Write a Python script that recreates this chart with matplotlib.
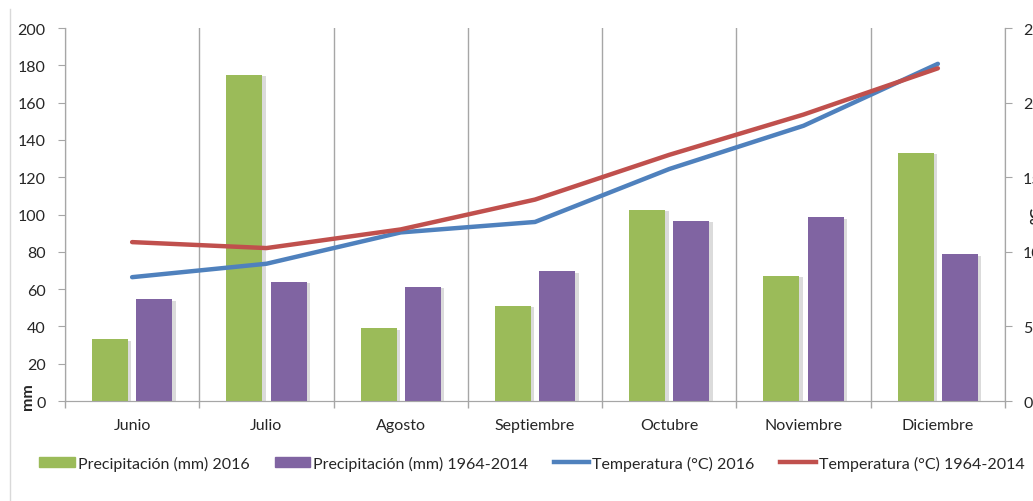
import matplotlib.pyplot as plt
import matplotlib.patheffects as pe
from matplotlib.lines import Line2D
from matplotlib.patches import Patch
import numpy as np

plt.rcParams['font.family'] = ['Lato', 'DejaVu Sans']

months = ['Junio', 'Julio', 'Agosto', 'Septiembre', 'Octubre', 'Noviembre', 'Diciembre']
prec_2016 = [33, 175, 39, 51, 102.5, 67, 133]
prec_hist = [54.5, 64, 61.3, 69.5, 96.5, 98.5, 78.7]
temp_2016 = [8.3, 9.2, 11.3, 12.0, 15.55, 18.45, 22.6]
temp_hist = [10.65, 10.25, 11.5, 13.5, 16.5, 19.2, 22.3]

GREEN = '#9BBB59'
PURPLE = '#8064A2'
BLUE = '#4F81BD'
RED = '#C0504D'
GRID = '#A6A6A6'
TXT = '#262626'

fig = plt.figure(figsize=(10.33, 5.02), dpi=100)
ax = fig.add_axes([0.0629, 0.1992, 0.91, 0.743])
ax2 = ax.twinx()

x = np.arange(len(months))
w = 0.268
off = 0.165
# soft drop shadow on the bars
shadow = [pe.SimplePatchShadow(offset=(2.5, -1), shadow_rgbFace='#9a9a9a', alpha=0.35), pe.Normal()]
b1 = ax.bar(x - off, prec_2016, w, color=GREEN, zorder=3)
b2 = ax.bar(x + off, prec_hist, w, color=PURPLE, zorder=3)
for bar in list(b1) + list(b2):
    bar.set_path_effects(shadow)

l1, = ax2.plot(x, temp_2016, color=BLUE, lw=3.2, solid_capstyle='round', solid_joinstyle='round')
l2, = ax2.plot(x, temp_hist, color=RED, lw=3.2, solid_capstyle='round', solid_joinstyle='round')

ax.set_xlim(-0.5, 6.5)
ax.set_ylim(0, 200)
ax2.set_ylim(0, 25)
ax.set_yticks(range(0, 201, 20))
ax2.set_yticks(range(0, 26, 5))

ax.set_xticks(x)
ax.set_xticklabels(months, fontsize=11.5, color=TXT)
ax.tick_params(axis='x', which='major', length=0, pad=12)
ax.set_xticks(np.arange(-0.5, 7, 1), minor=True)
ax.tick_params(axis='x', which='minor', length=5, color=GRID, width=1)
ax.grid(axis='x', which='minor', color=GRID, lw=1, zorder=0)

ax.tick_params(axis='y', length=5, color=GRID, labelsize=11.5, labelcolor=TXT, pad=9)
ax2.tick_params(axis='y', length=5, color=GRID, labelsize=11.5, labelcolor=TXT, pad=8)

for a in (ax, ax2):
    a.spines['top'].set_visible(False)
    for s in ('left', 'right', 'bottom'):
        a.spines[s].set_color(GRID)
ax.set_axisbelow(True)

fig.text(28 / 1033, (502 - 397) / 502, 'mm', rotation=90, fontsize=11.5,
         fontweight='bold', color=TXT, ha='center', va='center')
fig.text(1037 / 1033, (502 - 215) / 502, '°C', rotation=90, fontsize=11.5,
         fontweight='bold', color=TXT, ha='center', va='center')

handles = [Patch(color=GREEN), Patch(color=PURPLE),
           Line2D([], [], color=BLUE, lw=3.2), Line2D([], [], color=RED, lw=3.2)]
fig.legend(handles,
           ['Precipitación (mm) 2016', 'Precipitación (mm) 1964-2014',
            'Temperatura (°C) 2016', 'Temperatura (°C) 1964-2014'],
           loc='center', bbox_to_anchor=(0.515, (502 - 464) / 502), ncol=4, frameon=False,
           fontsize=11.5, handlelength=2.2, handleheight=0.6, handletextpad=0.2,
           columnspacing=1.6, labelcolor=TXT)

fig.add_artist(Line2D([10 / 1033, 10 / 1033], [0.0, 492 / 502], color='#D9D9D9', lw=1))

fig.savefig('out.png', dpi=100)
